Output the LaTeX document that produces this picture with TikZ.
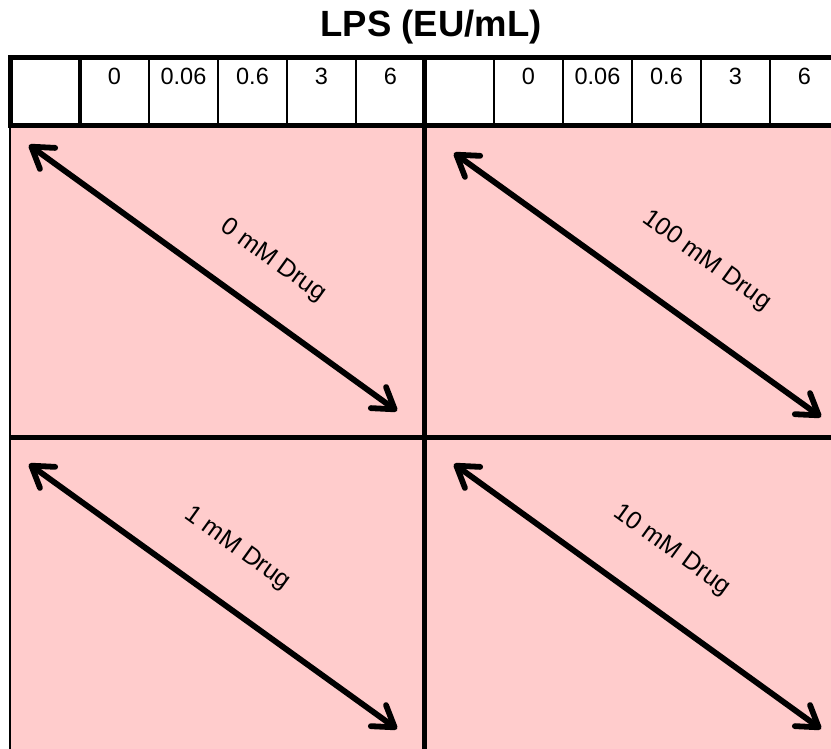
\documentclass[tikz,border=0pt]{standalone}
\usepackage{fontspec}
\setmainfont{Liberation Sans}
\usetikzlibrary{arrows.meta}
\definecolor{panelpink}{RGB}{255,204,204}
\tikzset{
  heavy/.style={line width=4.5pt},
  light/.style={line width=2.4pt},
  numlabel/.style={font=\fontsize{23.5}{27}\selectfont, anchor=base, inner sep=0pt},
  druglabel/.style={font=\fontsize{25}{29}\selectfont, rotate=-35.8, inner sep=0pt},
  barb/.tip={Straight Barb[length=20pt,width=26pt,line cap=round,line join=round]},
  dbl/.style={line width=5.8pt, line cap=round, {barb}-{barb}},
}
\begin{document}
\begin{tikzpicture}[x=1pt,y=-1pt]
\useasboundingbox (0,0) rectangle (831,748);
\clip (0,0) rectangle (831,748);

% title
\node[font=\bfseries\fontsize{36.5}{42}\selectfont, inner sep=0pt] (title) at (431,27) {LPS (EU/mL)};

% four coloured panels
\fill[panelpink] (10,126) rectangle (840,760);
\draw[light] (10,126) -- (10,760);
\draw[heavy] (10,437.5) -- (840,437.5);
\draw[heavy] (424.5,126) -- (424.5,760);

% header strip
\foreach \x in {149,218,287,356,494,563,632,701,770}
  \draw[light] (\x,57.5) -- (\x,125.5);
\draw[heavy] (80,57.5) -- (80,125.5);
\draw[heavy] (424.5,57.5) -- (424.5,125.5);
\draw[heavy] (840,57.5) -- (10.5,57.5) -- (10.5,125.5) -- (840,125.5);

% concentration labels
\node[numlabel] (l0)  at (114.5,84) {0};
\node[numlabel] (l1)  at (183.5,84) {0.06};
\node[numlabel] (l2)  at (252.5,84) {0.6};
\node[numlabel] (l3)  at (321.5,84) {3};
\node[numlabel] (l4)  at (390.5,84) {6};
\node[numlabel] (r0)  at (528.5,84) {0};
\node[numlabel] (r1)  at (597.5,84) {0.06};
\node[numlabel] (r2)  at (666.5,84) {0.6};
\node[numlabel] (r3)  at (735.5,84) {3};
\node[numlabel] (r4)  at (804.5,84) {6};

% diagonal arrows
\coordinate (tlA) at (29,145);  \coordinate (tlB) at (397,411);
\coordinate (trA) at (454,153); \coordinate (trB) at (821,417);
\coordinate (blA) at (29,464);  \coordinate (blB) at (397,729);
\coordinate (brA) at (454,464); \coordinate (brB) at (821,729);
\draw[dbl] (tlA) -- (tlB);
\draw[dbl] (trA) -- (trB);
\draw[dbl] (blA) -- (blB);
\draw[dbl] (brA) -- (brB);

% drug concentration labels
\node[druglabel] (d0)   at (273,261)   {0 mM Drug};
\node[druglabel] (d100) at (706.5,261) {100 mM Drug};
\node[druglabel] (d1)   at (237.5,549) {1 mM Drug};
\node[druglabel] (d10)  at (672,550.5) {10 mM Drug};
\end{tikzpicture}
\end{document}
